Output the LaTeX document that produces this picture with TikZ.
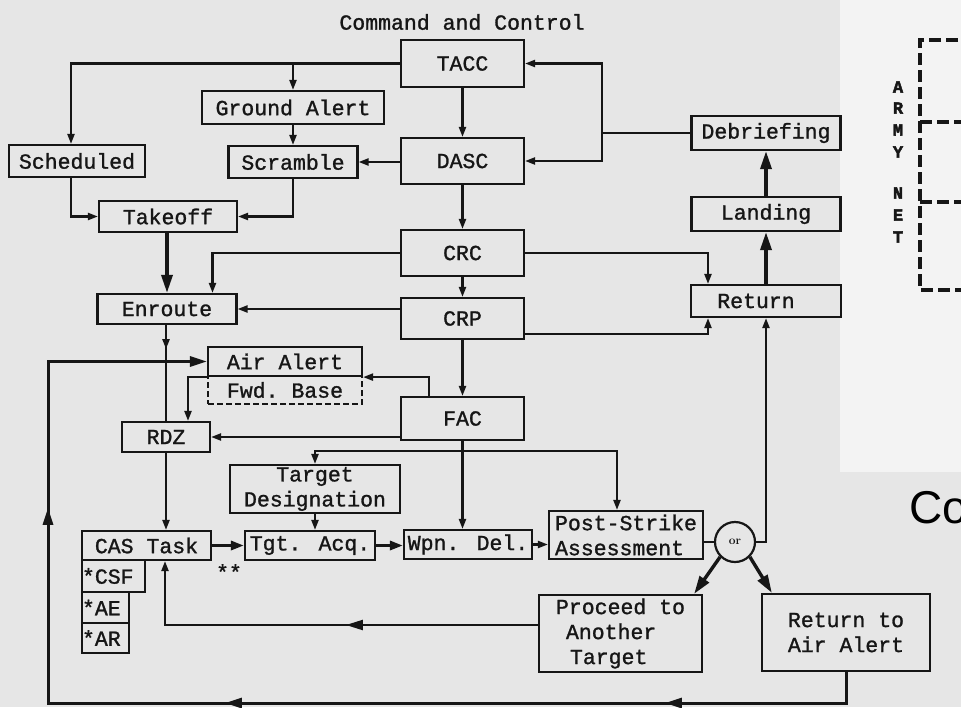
\documentclass[tikz,border=0pt]{standalone}
\usepackage{fontspec}
\newfontfamily\tw{Liberation Mono}[FakeBold=1.2]
\newfontfamily\twb{Liberation Mono}[FakeBold=2.5]
\newfontfamily\sansA{Liberation Sans}
\usetikzlibrary{arrows.meta,decorations.markings}
\definecolor{bg}{RGB}{230,230,230}
\definecolor{panel}{RGB}{243,243,243}
\definecolor{ink}{RGB}{22,22,22}
\begin{document}
\begin{tikzpicture}[x=1pt,y=-1pt,
  box/.style={draw=ink, line width=2.2pt, inner sep=0pt, text=ink, font=\tw\fontsize{21.5}{25}\selectfont, align=center},
  con/.style={draw=ink, line width=2.2pt, -{Triangle[length=10pt,width=7pt]}},
  medarr/.style={draw=ink, line width=3pt, -{Triangle[length=13pt,width=9pt]}},
  heavy/.style={draw=ink, line width=3.4pt, -{Triangle[length=18pt,width=11pt]}},
  plain/.style={draw=ink, line width=2.2pt},
  lbl/.style={text=ink, font=\tw\fontsize{21.5}{25}\selectfont, inner sep=0pt},
  armyl/.style={text=ink, font=\twb\bfseries\fontsize{17}{17}\selectfont, inner sep=0pt},
]
\useasboundingbox (0,0) rectangle (961,707);
\clip (0,0) rectangle (961,707);
\fill[bg] (0,0) rectangle (961,707);
\fill[panel] (840,0) rectangle (961,472);

% nodes
\node[lbl] (cc) at (462,22) {Command and Control};
\node[box,minimum width=123pt,minimum height=47pt] (tacc) at (462.5,63.5) {TACC};
\node[box,minimum width=123pt,minimum height=46pt] (dasc) at (462.5,161) {DASC};
\node[box,minimum width=123pt,minimum height=46pt] (crc) at (462.5,253) {CRC};
\node[box,minimum width=123pt,minimum height=41pt] (crp) at (462.5,318.5) {CRP};
\node[box,minimum width=123pt,minimum height=43pt] (fac) at (462.5,418.5) {FAC};
\node[box,minimum width=182pt,minimum height=33pt] (ga) at (293,107.5) {Ground Alert};
\node[box,minimum width=136pt,minimum height=32pt] (sched) at (77,161) {Scheduled};
\node[box,minimum width=129pt,minimum height=32pt] (scr) at (293,162) {Scramble};
\node[box,minimum width=138pt,minimum height=31pt] (tko) at (168,216.5) {Takeoff};
\node[box,minimum width=139pt,minimum height=30pt] (enr) at (167,309) {Enroute};
\node[box,dash pattern=on 6pt off 3pt,minimum width=154pt,minimum height=28pt] (fwd) at (285,390) {Fwd.\ Base};
\node[box,minimum width=154pt,minimum height=29pt] (aa) at (285,361.5) {Air Alert};
\node[box,minimum width=88pt,minimum height=30pt] (rdz) at (166,437) {RDZ};
\node[box,minimum width=149pt,minimum height=34pt] (deb) at (766,133) {Debriefing};
\node[box,minimum width=149pt,minimum height=34pt] (land) at (766,214) {Landing};
\node[box,minimum width=150pt,minimum height=32pt] (ret) at (766,301) {Return\hspace*{20pt}};
\node[box,minimum width=170pt,minimum height=48pt] (td) at (315,489) {Target\\Designation};
\node[box,minimum width=129pt,minimum height=29pt] (cas) at (146.5,545.5) {CAS Task};
\node[box,minimum width=130pt,minimum height=29pt] (tgt) at (310,545.5) {Tgt. Acq.};
\node[box,minimum width=128pt,minimum height=29pt] (wpn) at (468,544.5) {Wpn. Del.};
\node[box,minimum width=154pt,minimum height=48pt,align=left] (psa) at (626,535) {Post-Strike\\Assessment};
\node[draw=ink,line width=2.2pt,circle,minimum size=40pt,inner sep=0pt,text=ink,font=\bfseries\fontsize{12}{12}\selectfont] (or) at (735,542) {or};
\node[box,minimum width=163pt,minimum height=77pt,align=left] (proc) at (620.5,633.5) {Proceed to\\\hspace*{10pt}Another\\\hspace*{14pt}Target};
\node[box,minimum width=168pt,minimum height=77pt] (raa) at (846,632.5) {Return to\\Air Alert};
\node[box,minimum height=32pt,text width=63pt,align=left] (csf) at (113.5,576) {*CSF};
\node[box,minimum height=31pt,text width=47pt,align=left] (ae) at (105.5,607.5) {*AE};
\node[box,minimum height=30pt,text width=47pt,align=left] (ar) at (105.5,638) {*AR};
\node[lbl] (stars) at (229,572) {**};

% army net
\foreach \l/\yy in {A/87,R/108,M/130,Y/152,N/193,E/215,T/237}{
  \node[armyl] (army\l) at (898,\yy) {\l};
}
\draw[ink, line width=3.2pt, dash pattern=on 12pt off 5pt] (975,40) -- (920,40) -- (920,290) -- (975,290);
\draw[ink, line width=3.2pt, dash pattern=on 12pt off 5pt] (920,122) -- (975,122);
\draw[ink, line width=3.2pt, dash pattern=on 12pt off 5pt] (920,202) -- (975,202);

\node[text=black, font=\sansA\fontsize{46}{46}\selectfont, anchor=base west, inner sep=0pt] (co) at (909,523) {Co};

% connectors
\draw[con] (tacc.west) -| ([xshift=-6pt]sched.north);
\draw[con] (tacc.west -| ga.north) -- (ga.north);
\draw[con] (ga.south) -- (scr.north);
\draw[con] (dasc.west |- scr.east) -- (scr.east);
\draw[con] ([xshift=-6pt]sched.south) |- (tko.west);
\draw[con] (scr.south) |- (tko.east);
\draw[heavy] (tko.south -| enr.north) -- (enr.north);
\draw[con] (tacc.south) -- (dasc.north);
\draw[con] (dasc.south) -- (crc.north);
\draw[con] (crc.south) -- (crp.north);
\draw[con] (crp.south) -- (fac.north);
\draw[con] (crc.west) -| ([xshift=45.5pt]enr.north);
\draw[con] (crp.west |- enr.east) -- (enr.east);
\draw[plain, postaction={decorate}, decoration={markings, mark=at position 24pt with {\arrow{Triangle[length=10pt,width=7pt]}}}] (enr.south -| rdz.north) -- (rdz.north);
\draw[con] ([xshift=-33.5pt]fac.north) |- (aa.south east);
\draw[con] (aa.south west) -| ([xshift=22pt]rdz.north);
\draw[con] (fac.west |- rdz.east) -- (rdz.east);
\draw[con] (rdz.south) -- (rdz.south |- cas.north);
\draw[con] (fac.south) -- (fac.south |- wpn.north);
\coordinate (br) at (462.5,451);
\draw[con] (br) -| (td.north);
\draw[con] (br) -| ([xshift=-9pt]psa.north);
\draw[con] (td.south) -- (td.south |- tgt.north);
\draw[medarr] (cas.east) -- (tgt.west);
\draw[medarr] (tgt.east) -- (tgt.east -| wpn.west);
\draw[con] (wpn.east) -- (wpn.east -| psa.west);
\draw[plain] (psa.east |- or.west) -- (or.west);
\draw[con] (or.east) -| (ret.south);
\draw[heavy] (ret.north) -- (land.south);
\draw[heavy] (land.north) -- (deb.south);
\coordinate (dj) at (602,133);
\draw[plain] (deb.west) -- (dj);
\draw[con] (dj) |- (tacc.east);
\draw[con] (dj) |- (dasc.east);
\draw[con] (crc.east) -| ([xshift=-58pt]ret.north);
\draw[con] ([yshift=-15.5pt]crp.east) -| ([xshift=-58pt]ret.south);
\draw[heavy] (or.south west) -- ([xshift=-9pt]proc.north east);
\draw[heavy] (or.south east) -- ([xshift=11pt]raa.north west);
\draw[con, postaction={decorate}, decoration={markings, mark=at position 192pt with {\arrow{Triangle[length=17pt,width=10pt]}}}] ([yshift=8.5pt]proc.west) -| ([xshift=18.5pt]cas.south);
\coordinate (lb) at (48,703);
\draw[draw=ink, line width=3pt, -{Triangle[length=17pt,width=10pt]}, postaction={decorate}, decoration={markings,
  mark=at position 212pt with {\arrow{Triangle[length=17pt,width=10pt]}},
  mark=at position 652pt with {\arrow{Triangle[length=17pt,width=10pt]}},
  mark=at position 1024pt with {\arrow{Triangle[length=17pt,width=10pt]}}}]
  (raa.south) |- (lb) |- (aa.west);
\end{tikzpicture}
\end{document}
